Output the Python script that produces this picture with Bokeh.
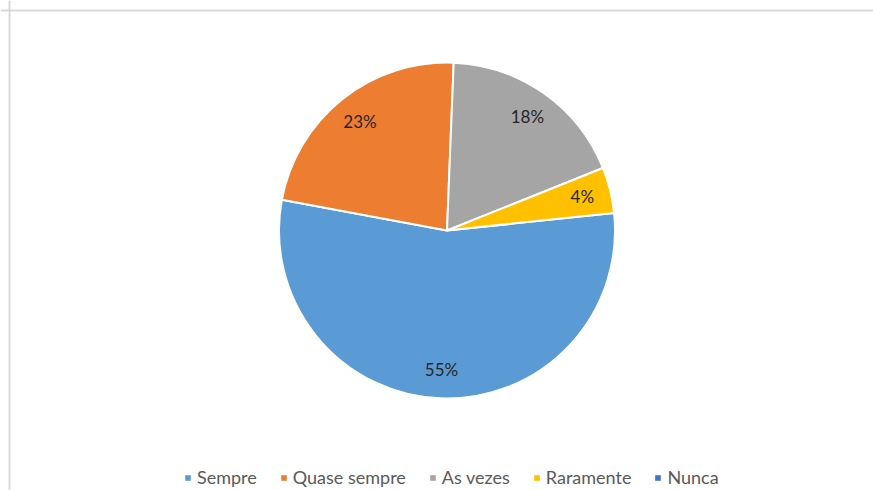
import math
from bokeh.plotting import figure
from bokeh.models import ColumnDataSource, Legend, LegendItem, Span, Range1d
from bokeh.embed import file_html
from bokeh.resources import INLINE
from bokeh.core.properties import value

# ---- data ----
categories = ["Sempre", "Quase sempre", "As vezes", "Raramente", "Nunca"]
shares = [54.6, 22.7, 18.3, 4.4, 0.0]          # percent
colors = ["#5B9BD5", "#ED7D31", "#A5A5A5", "#FFC000", "#4472C4"]
first_slice_angle = 84.0                        # degrees clockwise from 12 o'clock

# ---- layout ----
W, H = 873, 490
cx, cy = 446.5, H - 230.0
R = 168.0
label_frac = 0.83

total = sum(shares)
pie = dict(cat=[], start=[], end=[], color=[], x=[], y=[])
lx, ly, ltxt = [], [], []
acc = first_slice_angle
for c, s, col in zip(categories, shares, colors):
    a0 = acc
    a1 = acc + s / total * 360.0
    acc = a1
    if s <= 0:
        continue
    # convert clockwise-from-top to math angles (counter-clockwise from +x)
    pie["cat"].append(c)
    pie["start"].append(math.radians(90.0 - a1))
    pie["end"].append(math.radians(90.0 - a0))
    pie["color"].append(col)
    pie["x"].append(cx)
    pie["y"].append(cy)
    mid = math.radians(90.0 - (a0 + a1) / 2.0)
    lx.append(cx + label_frac * R * math.cos(mid))
    ly.append(cy + label_frac * R * math.sin(mid))
    ltxt.append(f"{s / total * 100:.0f}%")

src = ColumnDataSource(pie)
lab = ColumnDataSource(dict(x=lx, y=ly, text=ltxt))
leg_src = ColumnDataSource(dict(cat=categories, color=colors,
                                x=[cx] * len(categories), y=[cy] * len(categories)))

p = figure(width=W, height=H, output_backend="svg", toolbar_location=None,
           x_range=Range1d(0, W), y_range=Range1d(0, H), min_border=0)
p.axis.visible = False
p.grid.visible = False
p.outline_line_color = None
p.background_fill_color = "white"
p.border_fill_color = "white"

# chart area border (left and top visible)
p.add_layout(Span(location=9, dimension="height", line_color="#d9d9d9", line_width=2))
p.add_layout(Span(location=H - 10, dimension="width", line_color="#d9d9d9", line_width=2))

p.wedge(x="x", y="y", radius=R, start_angle="start", end_angle="end",
        fill_color="color", line_color="white", line_width=2, source=src)

# legend-only renderer (zero radius, never visible)
lr = p.wedge(x="x", y="y", radius=0, start_angle=0, end_angle=0,
             fill_color="color", line_color=None, source=leg_src)

p.text(x="x", y="y", text="text", source=lab, text_align="center",
       text_baseline="middle", text_font=value("Lato"), text_font_size="17px",
       text_color="#262626")

items = [LegendItem(label=c, renderers=[lr], index=i) for i, c in enumerate(categories)]
legend = Legend(items=items, orientation="horizontal", location=(184, 2),
                glyph_width=7, glyph_height=7, label_standoff=6, spacing=23,
                padding=0, margin=0, border_line_color=None,
                background_fill_alpha=0, label_text_font="Lato",
                label_text_font_size="18px", label_text_color="#595959")
p.add_layout(legend)

open("out.html", "w").write(file_html(p, INLINE))
